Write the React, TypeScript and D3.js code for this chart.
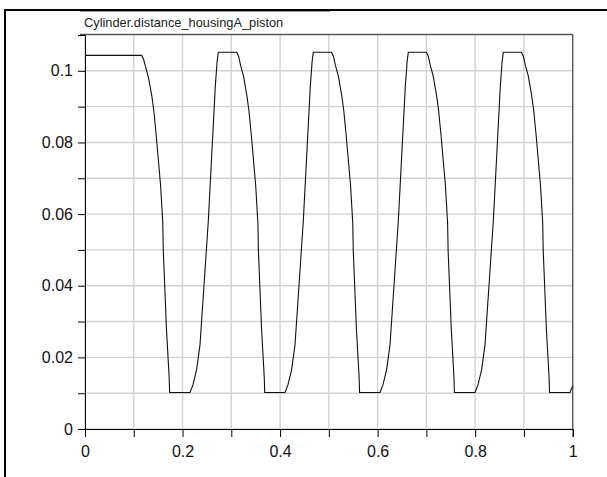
import React, { useEffect, useRef } from "react";
import * as d3 from "d3";

// Cylinder.distance_housingA_piston over time
const time = [
  0, 0.116, 0.12, 0.124, 0.13, 0.137, 0.141, 0.146, 0.155, 0.1595, 0.1605, 0.167, 0.1725, 0.1735,
  0.2153, 0.2213, 0.2288, 0.2358, 0.2528, 0.2673, 0.2698, 0.2708, 0.2733,
  0.311, 0.315, 0.319, 0.325, 0.332, 0.336, 0.341, 0.35, 0.3545, 0.3555, 0.362, 0.3675, 0.3685,
  0.4101, 0.4161, 0.4236, 0.4306, 0.4476, 0.4621, 0.4646, 0.4656, 0.4681,
  0.5055, 0.5095, 0.5135, 0.5195, 0.5265, 0.5305, 0.5355, 0.5445, 0.549, 0.55, 0.5565, 0.562, 0.563,
  0.6049, 0.6109, 0.6184, 0.6254, 0.6424, 0.6569, 0.6594, 0.6604, 0.6629,
  0.7, 0.704, 0.708, 0.714, 0.721, 0.725, 0.73, 0.739, 0.7435, 0.7445, 0.751, 0.7565, 0.7575,
  0.7997, 0.8057, 0.8132, 0.8202, 0.8372, 0.8517, 0.8542, 0.8552, 0.8577,
  0.895, 0.899, 0.903, 0.909, 0.916, 0.92, 0.925, 0.934, 0.9385, 0.9395, 0.946, 0.9515, 0.9525,
  0.9945, 1.0,
];

const distance = [
  0.1043, 0.1043, 0.1033, 0.1012, 0.0982, 0.093, 0.089, 0.082, 0.068, 0.0575, 0.05, 0.028, 0.0146, 0.0102,
  0.0102, 0.0123, 0.0165, 0.0235, 0.058, 0.096, 0.1005, 0.1025, 0.1052,
  0.1052, 0.104, 0.1015, 0.0985, 0.093, 0.089, 0.082, 0.068, 0.0575, 0.05, 0.028, 0.0146, 0.0102,
  0.0102, 0.0123, 0.0165, 0.0235, 0.058, 0.096, 0.1005, 0.1025, 0.1052,
  0.1052, 0.104, 0.1015, 0.0985, 0.093, 0.089, 0.082, 0.068, 0.0575, 0.05, 0.028, 0.0146, 0.0102,
  0.0102, 0.0123, 0.0165, 0.0235, 0.058, 0.096, 0.1005, 0.1025, 0.1052,
  0.1052, 0.104, 0.1015, 0.0985, 0.093, 0.089, 0.082, 0.068, 0.0575, 0.05, 0.028, 0.0146, 0.0102,
  0.0102, 0.0123, 0.0165, 0.0235, 0.058, 0.096, 0.1005, 0.1025, 0.1052,
  0.1052, 0.104, 0.1015, 0.0985, 0.093, 0.089, 0.082, 0.068, 0.0575, 0.05, 0.028, 0.0146, 0.0102,
  0.0102, 0.0121,
];

const xTicks = [0, 0.2, 0.4, 0.6, 0.8, 1];
const xTickLabels = ["0", "0.2", "0.4", "0.6", "0.8", "1"];
const xMinor = [0.1, 0.3, 0.5, 0.7, 0.9];
const yTicks = [0, 0.02, 0.04, 0.06, 0.08, 0.1];
const yTickLabels = ["0", "0.02", "0.04", "0.06", "0.08", "0.1"];
const yMinor = [0.01, 0.03, 0.05, 0.07, 0.09];

const title = "Cylinder.distance_housingA_piston";

const App = () => {
  const svgRef = useRef<SVGSVGElement>(null);

  useEffect(() => {
    const svg = d3.select(svgRef.current);
    svg.selectAll("*").remove();

    const width = 607;
    const height = 477;
    const left = 85, right = 572.7, top = 35, bottom = 429;
    const font = "Liberation Sans, Arial, sans-serif";

    const x = d3.scaleLinear().domain([0, 1]).range([left, right]);
    const y = d3.scaleLinear().domain([0, 0.11]).range([bottom, top]);

    svg.attr("width", width).attr("height", height);

    // outer frame (only top and left are in view)
    svg.append("line").attr("x1", 4).attr("x2", width).attr("y1", 10).attr("y2", 10)
      .attr("stroke", "#000").attr("stroke-width", 2);
    svg.append("line").attr("x1", 5).attr("x2", 5).attr("y1", 9).attr("y2", height)
      .attr("stroke", "#000").attr("stroke-width", 2);
    svg.append("line").attr("x1", 80).attr("x2", 330).attr("y1", 11.5).attr("y2", 11.5)
      .attr("stroke", "#999").attr("stroke-width", 1);

    // title
    svg.append("text").attr("x", 84).attr("y", 27)
      .attr("font-family", font).attr("font-size", 12.8)
      .attr("fill", "#222").text(title);

    // grid
    const grid = svg.append("g").attr("stroke", "#d2d2d2").attr("stroke-width", 1.4);
    [...xTicks, ...xMinor].forEach(t => {
      grid.append("line").attr("x1", x(t)).attr("x2", x(t)).attr("y1", top).attr("y2", bottom);
    });
    [...yTicks, ...yMinor].forEach(v => {
      grid.append("line").attr("x1", left).attr("x2", right).attr("y1", y(v)).attr("y2", y(v));
    });

    // top and right border
    svg.append("line").attr("x1", 80).attr("x2", right).attr("y1", top - 0.5).attr("y2", top - 0.5)
      .attr("stroke", "#555").attr("stroke-width", 1.3);
    svg.append("line").attr("x1", right).attr("x2", right).attr("y1", top - 1).attr("y2", bottom)
      .attr("stroke", "#555").attr("stroke-width", 1.3);

    // axes
    const xAxis = svg.append("g").attr("transform", `translate(0,${bottom})`)
      .call(d3.axisBottom(x).tickValues([...xTicks, ...xMinor].sort()).tickSize(8)
        .tickFormat(d => {
          const i = xTicks.indexOf(+d);
          return i >= 0 ? xTickLabels[i] : "";
        }));
    xAxis.select(".domain").attr("stroke", "#000");
    xAxis.selectAll("text").attr("font-family", font).attr("font-size", 16).attr("fill", "#111")
      .attr("dy", "0.95em").attr("y", 13);

    const yAxis = svg.append("g").attr("transform", `translate(${left},0)`)
      .call(d3.axisLeft(y).tickValues([...yTicks, ...yMinor].sort()).tickSize(7).tickPadding(5)
        .tickFormat(d => {
          const i = yTicks.indexOf(+d);
          return i >= 0 ? yTickLabels[i] : "";
        }));
    yAxis.select(".domain").attr("stroke", "#000");
    yAxis.selectAll("text").attr("font-family", font).attr("font-size", 16).attr("fill", "#111");

    // curve
    const pts: [number, number][] = time.map((t, i) => [t, distance[i]]);
    svg.append("path").datum(pts)
      .attr("fill", "none").attr("stroke", "#111").attr("stroke-width", 1.1)
      .attr("d", d3.line<[number, number]>().x(d => x(d[0])).y(d => y(d[1])));
  }, []);

  return <svg ref={svgRef} style={{ position: "absolute", left: 0, top: 0 }}></svg>;
};

export default App;
